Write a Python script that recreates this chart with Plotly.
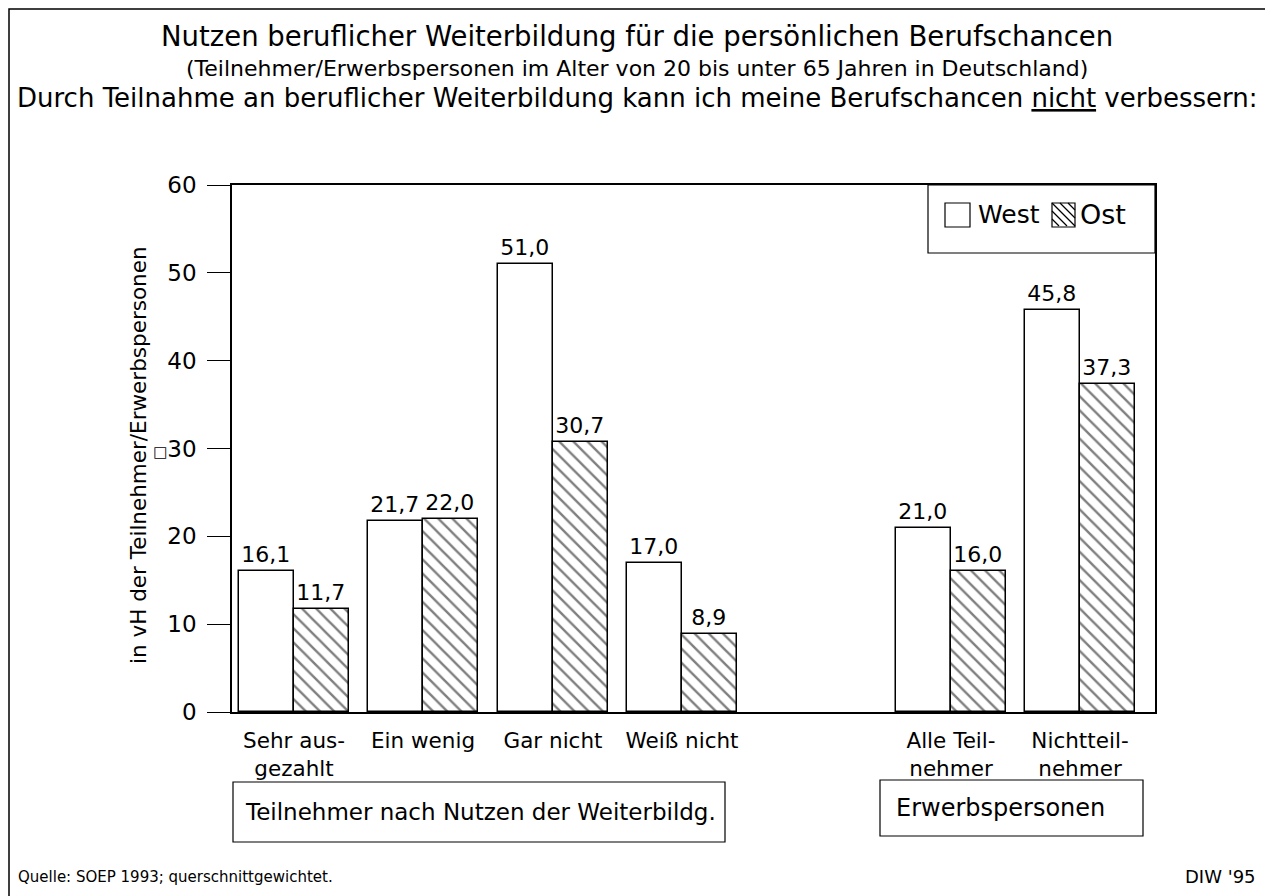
import plotly.graph_objects as go

# ---- data ----
categories = ["Sehr aus-<br>gezahlt", "Ein wenig", "Gar nicht", "Weiß nicht",
              "Alle Teil-<br>nehmer", "Nichtteil-<br>nehmer"]
series_names = ["West", "Ost"]
west = [16.1, 21.7, 51.0, 17.0, 21.0, 45.8]
ost = [11.7, 22.0, 30.7, 8.9, 16.0, 37.3]
y_tickvals = [0, 10, 20, 30, 40, 50, 60]
y_ticktext = ["0", "10", "20", "<span style='font-size:15px'>□</span>30", "40", "50", "60"]

# ---- layout constants (screen pixel coordinates) ----
OFF = 8                      # page body margin
W, H = 1273 - OFF, 896 - OFF
L, R, T, B = 232, 1155, 185, 712   # plot area on screen
group_x = [294, 423, 553, 682, 951, 1080]
bar_w = 55
FONT = "DejaVu Sans, Liberation Sans, Arial, sans-serif"


def fmt(v):
    return f"{v:.1f}".replace(".", ",")


def px(x):
    return (x - L) / (R - L)


def py(y):
    return (B - y) / (B - T)


fig = go.Figure()
fig.add_trace(go.Bar(
    name=series_names[0], x=[g - bar_w / 2 for g in group_x], y=west, width=bar_w,
    marker=dict(color="white", line=dict(color="black", width=1.5)),
    text=[fmt(v) for v in west], textposition="outside",
    textfont=dict(size=22, color="black", family=FONT), cliponaxis=False,
    showlegend=False,
))
fig.add_trace(go.Bar(
    name=series_names[1], x=[g + bar_w / 2 for g in group_x], y=ost, width=bar_w,
    marker=dict(color="white", line=dict(color="black", width=1.5),
                pattern=dict(shape="\\", fgcolor="black", bgcolor="white",
                             size=10, solidity=0.24)),
    text=[fmt(v) for v in ost], textposition="outside",
    textfont=dict(size=22, color="black", family=FONT), cliponaxis=False,
    showlegend=False,
))


def rect(x0, y0, x1, y1, w=1.2):
    return dict(type="rect", xref="paper", yref="paper", x0=px(x0), x1=px(x1),
                y0=py(y1), y1=py(y0), line=dict(color="black", width=w),
                fillcolor="rgba(0,0,0,0)")


shapes = [
    rect(9, 9, 1266, 905, 1.5),        # outer frame
    rect(928, 185, 1155, 253),         # legend box
    rect(233, 782, 725, 842),          # bottom group boxes
    rect(880, 780, 1143, 836),
    rect(945, 203, 970, 227),          # legend symbol West
    rect(1052, 203, 1075, 227),        # legend symbol Ost
]
# hatch lines inside the Ost legend symbol
sx0, sy0, s = 1052, 203, 23
for c in (-16, -8, 0, 8, 16):
    a = max(0, c)
    b = min(s, s + c)
    shapes.append(dict(type="line", xref="paper", yref="paper",
                       x0=px(sx0 + a), y0=py(sy0 + a - c),
                       x1=px(sx0 + b), y1=py(sy0 + b - c),
                       line=dict(color="black", width=1.3)))

annotations = [
    dict(text="Nutzen beruflicher Weiterbildung für die persönlichen Berufschancen",
         x=px(637), y=py(36), font=dict(size=27.5)),
    dict(text="(Teilnehmer/Erwerbspersonen im Alter von 20 bis unter 65 Jahren in Deutschland)",
         x=px(637), y=py(68), font=dict(size=22)),
    dict(text="Durch Teilnahme an beruflicher Weiterbildung kann ich meine Berufschancen <u>nicht</u> verbessern:",
         x=px(637), y=py(98), font=dict(size=26)),
    dict(text="in vH der Teilnehmer/Erwerbspersonen", x=px(138), y=py(455),
         textangle=-90, font=dict(size=21.5)),
    dict(text="Teilnehmer nach Nutzen der Weiterbildg.", x=px(480), y=py(812),
         font=dict(size=23)),
    dict(text="Erwerbspersonen", x=px(1000), y=py(808), font=dict(size=24)),
    dict(text=series_names[0], x=px(976), y=py(215), xanchor="left", font=dict(size=25)),
    dict(text=series_names[1], x=px(1078), y=py(215), xanchor="left", font=dict(size=27)),
    dict(text="Quelle: SOEP 1993; querschnittgewichtet.", x=px(16), y=py(877),
         xanchor="left", font=dict(size=15)),
    dict(text="DIW '95", x=px(1258), y=py(876), xanchor="right", font=dict(size=18)),
]
for a in annotations:
    a.update(xref="paper", yref="paper", showarrow=False)
    a.setdefault("xanchor", "center")
    a["yanchor"] = "middle"
    a["font"].update(color="black", family=FONT)

fig.update_layout(
    width=W, height=H,
    margin=dict(l=L - OFF, r=W - (R - OFF), t=T - OFF, b=H - (B - OFF), pad=0),
    paper_bgcolor="white", plot_bgcolor="white",
    font=dict(family=FONT, color="black"),
    barmode="overlay", bargap=0,
    showlegend=False,
    shapes=shapes, annotations=annotations,
)
fig.update_xaxes(
    range=[L, R], tickvals=group_x, ticktext=categories,
    showgrid=False, zeroline=False, showline=True, mirror=True,
    linecolor="black", linewidth=1.5, ticks="", ticklabelstandoff=8,
    tickfont=dict(size=21.5, color="black", family=FONT),
)
fig.update_yaxes(
    range=[0, 60], tickvals=y_tickvals, ticktext=y_ticktext,
    showgrid=False, zeroline=False, showline=True, mirror=True,
    linecolor="black", linewidth=1.5, ticks="outside", ticklen=23,
    tickcolor="black", tickwidth=1, ticklabelstandoff=6,
    tickfont=dict(size=23, color="black", family=FONT),
)

fig.write_html("out.html")
